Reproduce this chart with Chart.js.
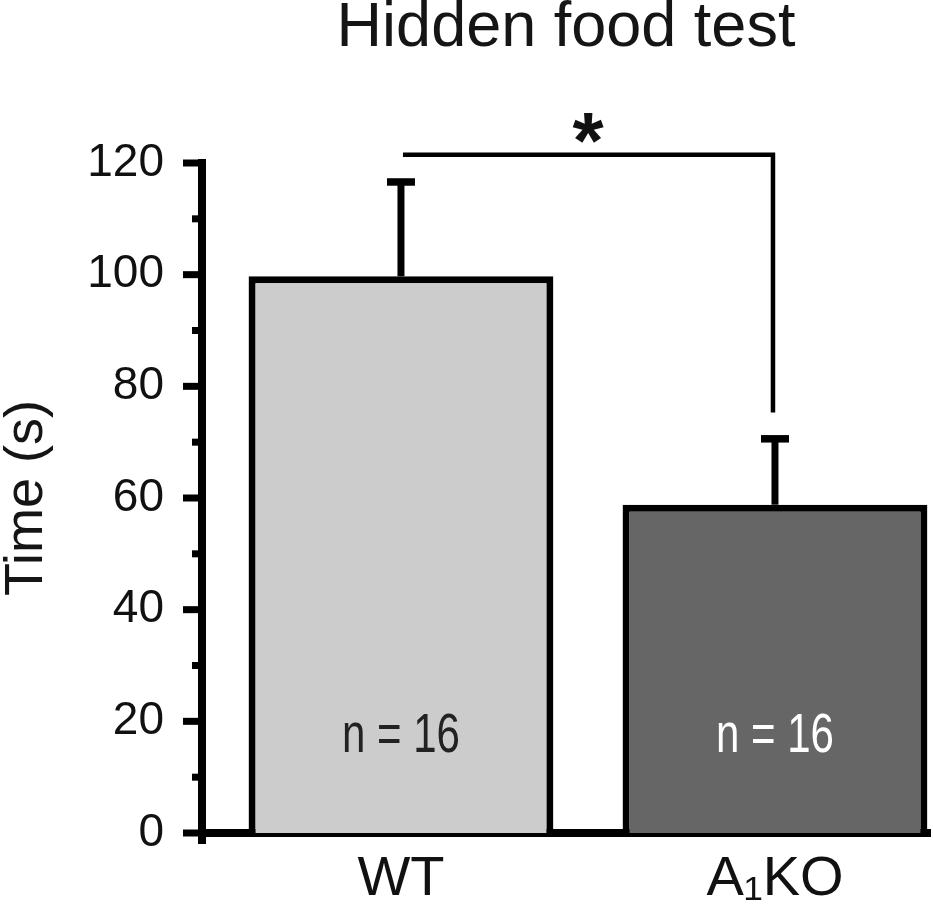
<!DOCTYPE html>
<html>
<head>
<meta charset="utf-8">
<title>Hidden food test</title>
<script src="https://cdn.jsdelivr.net/npm/chart.js@4/dist/chart.umd.min.js"></script>
<style>
  html, body { margin: 0; padding: 0; background: #fff; }
</style>
</head>
<body>
<canvas id="chart" width="933" height="922"></canvas>
<script>
// values
const groups = ["WT", "A₁KO"];
const meanTime = [99.7, 58.8];
const semTime = [16.9, 11.8];
const nMice = [16, 16];
const barColors = ["#cccccc", "#666666"];
const nColors = ["#222222", "#ffffff"];

// significance bracket, in seconds on the y axis
const bracketLevel = 121.5;
const bracketDrop = 75.3;
const bracketMark = "*";
const nLabelLevel = 17.2;

const FONT = "'Liberation Sans', Arial, Helvetica, sans-serif";

function line(ctx, x1, y1, x2, y2) {
  ctx.beginPath();
  ctx.moveTo(x1, y1);
  ctx.lineTo(x2, y2);
  ctx.stroke();
}

const overlay = {
  id: "overlay",
  afterDatasetsDraw(chart) {
    const { ctx } = chart;
    const x = chart.scales.x;
    const y = chart.scales.y;
    ctx.save();
    ctx.strokeStyle = "#000";
    ctx.lineCap = "butt";

    // error bars (upper half only)
    groups.forEach((g, i) => {
      const cx = x.getPixelForValue(i);
      const base = y.getPixelForValue(meanTime[i]);
      const top = y.getPixelForValue(meanTime[i] + semTime[i]);
      ctx.lineWidth = 7;
      line(ctx, cx, base, cx, top);
      ctx.lineWidth = 7.5;
      line(ctx, cx - 14, top, cx + 14, top);
    });

    // n labels inside the bars, condensed
    groups.forEach((g, i) => {
      const cx = x.getPixelForValue(i);
      const cy = y.getPixelForValue(nLabelLevel);
      ctx.save();
      ctx.translate(cx, cy);
      ctx.scale(0.75, 1);
      ctx.font = "56px " + FONT;
      ctx.fillStyle = nColors[i];
      ctx.textAlign = "center";
      ctx.textBaseline = "middle";
      ctx.fillText("n = " + nMice[i], 0, 0);
      ctx.restore();
    });

    // bracket WT -> A1KO
    const x0 = x.getPixelForValue(0) + 2;
    const x1 = x.getPixelForValue(1) - 2;
    const yb = y.getPixelForValue(bracketLevel);
    ctx.lineWidth = 4.5;
    ctx.lineJoin = "miter";
    ctx.beginPath();
    ctx.moveTo(x0, yb);
    ctx.lineTo(x1, yb);
    ctx.lineTo(x1, y.getPixelForValue(bracketDrop));
    ctx.stroke();

    ctx.font = "bold 80px " + FONT;
    ctx.fillStyle = "#111";
    ctx.textAlign = "center";
    ctx.textBaseline = "alphabetic";
    ctx.fillText(bracketMark, (x0 + x1) / 2, yb - 33 + 0.575 * 80);
    ctx.restore();
  },
  afterDraw(chart) {
    const { ctx } = chart;
    const y = chart.scales.y;
    const ax = chart.chartArea.left;
    ctx.save();
    ctx.strokeStyle = "#000";
    ctx.lineCap = "butt";
    // tick marks: long ones at labelled values, short ones between
    y.ticks.forEach((t) => {
      const py = y.getPixelForValue(t.value);
      const len = t.value % 20 === 0 ? 19 : 10;
      ctx.lineWidth = 7;
      line(ctx, ax - len, py, ax, py);
    });
    // y axis runs a little past the x axis
    ctx.lineWidth = 8;
    line(ctx, ax, chart.chartArea.bottom, ax, chart.chartArea.bottom + 11);
    ctx.restore();
  },
};

let chart = new Chart(document.getElementById("chart"), {
  type: "bar",
  data: {
    datasets: [
      {
        data: groups.map((g, i) => ({ x: i, y: meanTime[i] })),
        backgroundColor: barColors,
        borderColor: "#000",
        borderWidth: 7,
        borderSkipped: "start",
        barPercentage: 0.815,
        categoryPercentage: 1,
      },
    ],
  },
  options: {
    responsive: false,
    animation: false,
    devicePixelRatio: 1,
    layout: { padding: { top: 0, right: 3, bottom: 0, left: 0 } },
    plugins: {
      legend: { display: false },
      tooltip: { enabled: false },
      title: {
        display: true,
        text: "Hidden food test",
        fullSize: false,
        color: "#151515",
        font: { family: FONT, size: 63, weight: "normal", lineHeight: 1 },
        padding: { top: -3, bottom: 103 },
      },
    },
    scales: {
      x: {
        type: "linear",
        min: -0.532,
        max: 1.4145,
        offset: false,
        afterBuildTicks: (axis) => {
          axis.ticks = groups.map((g, i) => ({ value: i }));
        },
        afterFit: (axis) => {
          axis.height = 89;
        },
        grid: { display: false, drawTicks: false, offset: false },
        border: { display: true, color: "#000", width: 8 },
        ticks: {
          autoSkip: false,
          maxRotation: 0,
          padding: 19,
          color: "#111",
          font: { family: FONT, size: 56, lineHeight: 1 },
          callback: (value) => groups[value],
        },
      },
      y: {
        min: 0,
        max: 120,
        afterFit: (axis) => {
          axis.width = 202;
        },
        grid: { display: false, drawTicks: false },
        border: { display: true, color: "#000", width: 8 },
        ticks: {
          stepSize: 10,
          padding: 38,
          color: "#111",
          font: { family: FONT, size: 46, lineHeight: 1 },
          callback: (value) => (value % 20 === 0 ? value : ""),
        },
        title: {
          display: true,
          text: "Time (s)",
          color: "#151515",
          font: { family: FONT, size: 54, lineHeight: 1 },
          padding: { top: 0, bottom: 0 },
        },
      },
    },
  },
  plugins: [overlay],
});
</script>
</body>
</html>
